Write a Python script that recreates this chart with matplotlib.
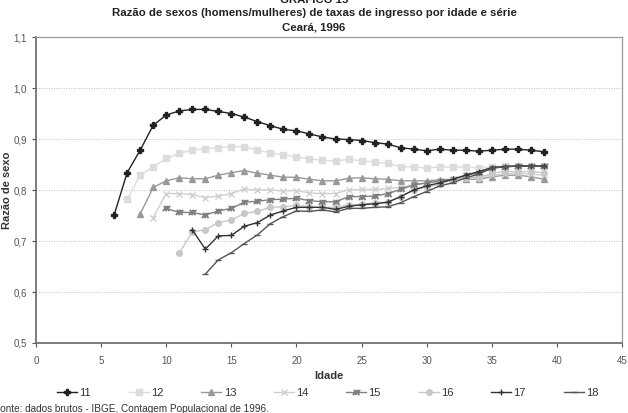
import matplotlib
matplotlib.use('Agg')
import matplotlib.pyplot as plt
import numpy as np

plt.rcParams['font.family'] = ['Liberation Sans', 'DejaVu Sans']

# idade de cada série (inicio), razão de sexos por idade
s11_start = 6
s11 = [0.751, 0.834, 0.878, 0.927, 0.947, 0.955, 0.958, 0.958, 0.954, 0.950, 0.943, 0.934,
       0.926, 0.919, 0.916, 0.910, 0.904, 0.900, 0.899, 0.897, 0.893, 0.890, 0.883, 0.880,
       0.877, 0.880, 0.878, 0.878, 0.876, 0.878, 0.880, 0.880, 0.878, 0.875]
s12_start = 7
s12 = [0.782, 0.829, 0.845, 0.862, 0.872, 0.878, 0.881, 0.883, 0.885, 0.885, 0.878, 0.873,
       0.869, 0.865, 0.861, 0.858, 0.857, 0.860, 0.857, 0.855, 0.852, 0.846, 0.845, 0.843,
       0.845, 0.845, 0.845, 0.843, 0.845, 0.847, 0.847, 0.847, 0.847]
s13_start = 8
s13 = [0.753, 0.805, 0.818, 0.824, 0.822, 0.822, 0.829, 0.834, 0.838, 0.833, 0.829, 0.825,
       0.825, 0.821, 0.818, 0.818, 0.823, 0.824, 0.822, 0.821, 0.818, 0.818, 0.818, 0.820,
       0.821, 0.821, 0.821, 0.826, 0.829, 0.829, 0.826, 0.821]
s14_start = 9
s14 = [0.746, 0.793, 0.793, 0.791, 0.785, 0.788, 0.793, 0.802, 0.800, 0.800, 0.798, 0.799,
       0.794, 0.793, 0.793, 0.800, 0.801, 0.801, 0.803, 0.805, 0.810, 0.813, 0.816, 0.820,
       0.824, 0.826, 0.829, 0.831, 0.833, 0.831, 0.829]
s15_start = 10
s15 = [0.764, 0.756, 0.756, 0.751, 0.759, 0.764, 0.776, 0.778, 0.781, 0.782, 0.784, 0.779,
       0.777, 0.777, 0.787, 0.787, 0.788, 0.793, 0.801, 0.810, 0.814, 0.818, 0.821, 0.829,
       0.833, 0.843, 0.845, 0.847, 0.847, 0.847]
s16_start = 11
s16 = [0.676, 0.718, 0.722, 0.736, 0.741, 0.754, 0.758, 0.766, 0.767, 0.770, 0.767, 0.766,
       0.766, 0.771, 0.772, 0.775, 0.776, 0.787, 0.800, 0.806, 0.811, 0.820, 0.824, 0.824,
       0.833, 0.836, 0.836, 0.836, 0.834]
s17_start = 12
s17 = [0.722, 0.684, 0.710, 0.711, 0.729, 0.736, 0.751, 0.759, 0.766, 0.766, 0.766, 0.762,
       0.768, 0.771, 0.773, 0.776, 0.787, 0.800, 0.808, 0.814, 0.821, 0.829, 0.836, 0.844,
       0.846, 0.847, 0.847, 0.847]
s18_start = 13
s18 = [0.635, 0.663, 0.677, 0.695, 0.712, 0.734, 0.748, 0.759, 0.758, 0.761, 0.757, 0.764,
       0.764, 0.766, 0.767, 0.775, 0.787, 0.797, 0.808, 0.814, 0.824, 0.831, 0.843, 0.846,
       0.847, 0.847, 0.846]

series = [('11', s11_start, s11, '#222222', 'P', 4.5),
          ('12', s12_start, s12, '#dcdcdc', 's', 4.5),
          ('13', s13_start, s13, '#999999', '^', 4.5),
          ('14', s14_start, s14, '#cfcfcf', 'x', 4.0),
          ('15', s15_start, s15, '#808080', '$\u0416$', 5.0),
          ('16', s16_start, s16, '#c8c8c8', 'o', 4.0),
          ('17', s17_start, s17, '#333333', '+', 5.0),
          ('18', s18_start, s18, '#555555', '_', 4.0)]

fig = plt.figure(figsize=(6.28, 4.13), dpi=100)
ax = fig.add_axes([36/628, 1-343/413, 586/628, 306/413])

for lab, x0, vals, col, mk, ms in series:
    x = np.arange(x0, x0 + len(vals))
    ax.plot(x, vals, color=col, lw=1.0, marker=mk, ms=ms, mec=col, mfc=col,
            mew=1.0, label=lab)

ax.set_xlim(0, 45)
ax.set_ylim(0.5, 1.1)
ax.set_xticks(np.arange(0, 46, 5))
ax.set_yticks(np.arange(0.5, 1.11, 0.1))
ax.set_yticklabels(['0,5', '0,6', '0,7', '0,8', '0,9', '1,0', '1,1'])
ax.tick_params(labelsize=7, colors='#555555', length=3, width=0.8)
ax.tick_params(axis='x', pad=6)
for y in [0.6, 0.7, 0.8, 0.9, 1.0]:
    ax.axhline(y, color='#aaaaaa', lw=0.6, ls=(0, (1, 2)), zorder=0)
for sp in ['left', 'bottom']:
    ax.spines[sp].set_color('#666666')
    ax.spines[sp].set_linewidth(1.2)
for sp in ['top', 'right']:
    ax.spines[sp].set_color('#999999')
    ax.spines[sp].set_linewidth(0.9)

ax.set_xlabel('Idade', fontsize=8, fontweight='bold', color='#333333', labelpad=4)
ax.set_ylabel('Razão de sexo', fontsize=8, fontweight='bold', color='#333333')
ax.yaxis.set_label_coords(-0.041, 0.5)

fig.text(0.5, 1.0, 'GRÁFICO 15', ha='center', va='center', fontsize=8.2,
         fontweight='bold', color='#222222')
fig.text(0.5, 1-13/413, 'Razão de sexos (homens/mulheres) de taxas de ingresso por idade e série',
         ha='center', va='center', fontsize=8.2, fontweight='bold', color='#222222')
fig.text(0.5, 1-27/413, 'Ceará, 1996', ha='center', va='center', fontsize=8.2,
         fontweight='bold', color='#222222')

ax.legend(loc='center', bbox_to_anchor=(0.498, -0.163), ncol=8, frameon=False,
          fontsize=8, handlelength=1.8, columnspacing=3.4, handletextpad=0.2,
          labelcolor='#333333')

fig.text(-0.009, 1-409/413, 'Fonte: dados brutos - IBGE, Contagem Populacional de 1996.',
         ha='left', va='center', fontsize=7.2, color='#333333')

fig.savefig('out.png', dpi=100)
